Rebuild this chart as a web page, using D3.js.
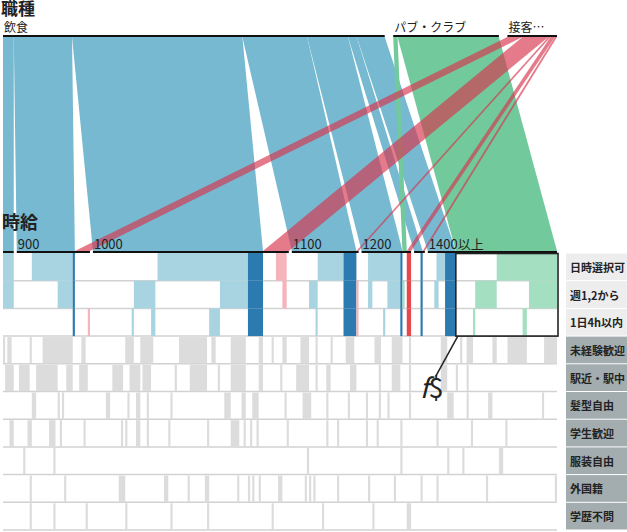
<!DOCTYPE html>
<html>
<head>
<meta charset="utf-8">
<script src="https://cdn.jsdelivr.net/npm/d3@7"></script>
<style>
  body { margin: 0; background: #fff; }
  text { font-family: "Noto Sans CJK JP", sans-serif; fill: #222; }
</style>
</head>
<body>
<div id="chart"></div>
<script>
// job category (top axis) and wage group (bottom axis)
const categories = ["飲食", "パブ・クラブ", "接客…"];
const wageGroups = ["850", "900", "1000", "1100", "1200", "1300", "1400以上"];

// number of listings per wage group, one array per category
const inshoku = [5, 27, 79, 30, 19, 4, 13];
const pubClub = [0, 0, 0, 0, 2, 0, 47];
const sekkyaku = [0, 7, 12, 1, 2, 1, 0];

const rowLabels = ["日時選択可", "週1,2から", "1日4h以内", "未経験歓迎", "駅近・駅中",
  "髪型自由", "学生歓迎", "服装自由", "外国籍", "学歴不問"];

// listings (in wage order, index 0..248) that have each feature, as [from, to) runs
const nichijiSentaku = [[0,5],[12,32],[69,118],[124,129],[142,160],[164,180],[182,184],[187,188],[193,202],[221,249]];
const shuIchiNi = [[0,5],[24,32],[58,68],[98,118],[127,129],[138,142],[154,161],[164,166],[173,181],[182,184],[187,188],[192,194],[197,202],[211,221],[236,249]];
const yojikanInai = [[31,32],[38,39],[57,58],[66,68],[93,98],[111,118],[141,142],[154,161],[171,172],[179,180],[182,184],[187,188],[197,202],[210,211],[233,235]];
const mikeiken = [[0,1],[2,4],[11,12],[17,31],[35,37],[54,58],[61,67],[79,92],[94,96],[103,110],[116,118],[122,123],[127,129],[134,138],[141,142],[148,149],[155,159],[167,170],[175,180],[183,184],[195,198],[204,205],[207,210],[219,221],[226,235],[243,249]];
const ekichika = [[1,5],[6,11],[14,24],[28,31],[34,38],[48,53],[56,61],[62,66],[77,78],[84,92],[97,98],[103,110],[116,118],[126,127],[132,138],[141,142],[146,148],[157,160],[169,170],[175,179],[183,184],[195,198],[202,203],[207,208]];
const kamigata = [[12,14],[24,25],[26,27],[45,47],[55,56],[59,61],[64,65],[75,76],[100,103],[108,110],[113,116],[128,129],[135,139],[146,147],[156,157],[163,164],[169,170],[173,174],[183,184],[198,201],[207,208],[217,219],[242,243]];
const gakusei = [[3,5],[10,12],[20,23],[25,26],[36,37],[52,53],[54,55],[59,61],[64,65],[74,75],[92,93],[103,107],[109,110],[112,113],[115,116],[129,130],[146,147],[151,152],[163,164],[168,169],[179,180],[193,194],[209,210],[225,226]];
const fukuso = [[8,9],[22,23],[137,138],[179,180],[198,199],[205,206],[222,224]];
const gaikokuseki = [[11,12],[27,28],[51,54],[72,74],[83,84],[91,93],[106,107],[111,112],[113,114],[116,117],[125,127],[136,137],[138,139],[140,141],[151,152],[164,165],[176,177],[187,188],[193,194],[216,217],[248,249]];
const gakureki = [[11,12],[22,23],[37,38],[54,55],[75,76],[92,93],[122,123],[144,145],[166,167],[182,184]];

const features = [nichijiSentaku, shuIchiNi, yojikanInai, mikeiken, ekichika,
  kamigata, gakusei, fukuso, gaikokuseki, gakureki];

const ribbonColor = ["#76b9d0", "#72ca9c", "rgb(215,50,75)"];
const lightColor = ["#a8d4e2", "#a5dfc2", "#f5b4bc"];
const darkColor = ["#2b7bb0", "#2e9a60", "#e8474d"];

const width = 627, height = 532;
const left = 3, right = 557;
const topY = 36, botY = 252;
const topGap = 8.5, botGap = 3;

const svg = d3.select("#chart").append("svg")
  .attr("width", width).attr("height", height);

const counts = [inshoku, pubClub, sekkyaku];
const total = d3.sum(counts.flat());

const xTop = d3.scaleLinear().domain([0, total])
  .range([left, right - topGap * (categories.length - 1)]);
const xBot = d3.scaleLinear().domain([0, total])
  .range([left, right - botGap * (wageGroups.length - 1)]);
const xb = (g, i) => xBot(i) + g * botGap;
const xt = (c, i) => xTop(i) + c * topGap;

// top order: category then wage
const flows = [];
const catRange = [];
let pos = 0;
counts.forEach((row, c) => {
  const s = pos;
  row.forEach((n, g) => {
    if (n > 0) flows.push({ c, g, n, t0: pos });
    pos += n;
  });
  catRange.push([s, pos]);
});

// bottom order: wage then category
const groupRange = [];
const unitCat = [];
pos = 0;
wageGroups.forEach((w, g) => {
  const s = pos;
  flows.filter(f => f.g === g).sort((a, b) => a.c - b.c).forEach(f => {
    f.b0 = pos;
    for (let k = 0; k < f.n; k++) unitCat.push(f.c);
    pos += f.n;
  });
  groupRange.push([s, pos]);
});

// ribbons
const ribbonG = svg.append("g");
const line = d3.line();
ribbonG.selectAll("path")
  .data(flows)
  .join("path")
  .attr("d", f => line([
    [xt(f.c, f.t0), topY + 1],
    [xt(f.c, f.t0 + f.n), topY + 1],
    [xb(f.g, f.b0 + f.n), botY - 1],
    [xb(f.g, f.b0), botY - 1]
  ]) + "Z")
  .attr("fill", f => ribbonColor[f.c])
  .attr("fill-opacity", f => (f.c === 2 ? 0.65 : 1));

// titles
svg.append("text").attr("x", 1).attr("y", 15)
  .attr("font-size", 17).attr("font-weight", 700).text("職種");
svg.append("text").attr("x", 2).attr("y", 229)
  .attr("font-size", 18).attr("font-weight", 700).text("時給");

// top axis
categories.forEach((name, c) => {
  const [s, e] = catRange[c];
  svg.append("line")
    .attr("x1", xt(c, s)).attr("x2", xt(c, e))
    .attr("y1", topY).attr("y2", topY)
    .attr("stroke", "#111").attr("stroke-width", 2);
  svg.append("text")
    .attr("x", xt(c, s) + 1).attr("y", 32)
    .attr("font-size", 12)
    .text(name);
});

// bottom axis
wageGroups.forEach((name, g) => {
  const [s, e] = groupRange[g];
  const x0 = xb(g, s), x1 = xb(g, e);
  svg.append("line")
    .attr("x1", x0).attr("x2", x1)
    .attr("y1", botY).attr("y2", botY)
    .attr("stroke", "#111").attr("stroke-width", 2);
  if (x1 - x0 > 30) {
    svg.append("text")
      .attr("x", x0 + 1).attr("y", 249)
      .attr("font-family", "Liberation Serif, serif")
      .attr("font-size", 13)
      .text(name);
  }
});

// feature matrix
const y = d3.scaleBand().domain(rowLabels).range([botY + 1, 530]);
const has = features.map(list => {
  const a = new Array(total).fill(false);
  list.forEach(([s, e]) => { for (let i = s; i < e; i++) a[i] = true; });
  return a;
});

const cellColor = (r, i) => {
  if (!has[r][i]) return null;
  if (r > 2) return "#dcdcdc";
  const all = has[0][i] && has[1][i] && has[2][i];
  return all ? darkColor[unitCat[i]] : lightColor[unitCat[i]];
};

// separators first
const sepG = svg.append("g");
rowLabels.forEach((r, k) => {
  if (k === 0) return;
  sepG.append("line")
    .attr("x1", left).attr("x2", right)
    .attr("y1", y(r)).attr("y2", y(r))
    .attr("stroke", "#d2d2d2").attr("stroke-width", 1.5);
});
sepG.append("line")
  .attr("x1", left).attr("x2", right)
  .attr("y1", 530).attr("y2", 530)
  .attr("stroke", "#d2d2d2").attr("stroke-width", 1.5);

const cellG = svg.append("g");
rowLabels.forEach((label, r) => {
  const cells = [];
  groupRange.forEach(([s, e], g) => {
    let i = s;
    while (i < e) {
      const col = cellColor(r, i);
      let j = i + 1;
      while (j < e && cellColor(r, j) === col) j++;
      if (col) cells.push({ g, s: i, e: j, col });
      i = j;
    }
  });
  cellG.selectAll(null)
    .data(cells)
    .join("rect")
    .attr("x", d => xb(d.g, d.s))
    .attr("width", d => xb(d.g, d.e) - xb(d.g, d.s))
    .attr("y", y(label) + (r > 2 ? 1 : 0))
    .attr("height", y.bandwidth() - (r > 2 ? 1.5 : 0))
    .attr("fill", d => d.col);
});

// row labels
const labelG = svg.append("g");
rowLabels.forEach((label, r) => {
  labelG.append("rect")
    .attr("x", 566).attr("width", width - 566)
    .attr("y", y(label) + 0.5).attr("height", y.bandwidth() - 1)
    .attr("fill", r < 3 ? "#ededed" : "#a3acae");
  labelG.append("text")
    .attr("x", 570).attr("y", y(label) + y.bandwidth() / 2)
    .attr("dominant-baseline", "central")
    .attr("font-size", 11).attr("font-weight", 700)
    .text(label);
});

// annotation around the club listings in the top wage group
const club = flows.find(f => f.c === 1 && f.g === wageGroups.length - 1);
const bx0 = xb(club.g, club.b0), bx1 = xb(club.g, club.b0 + club.n) + 1;
const by0 = y(rowLabels[0]) + 0.5, by1 = y(rowLabels[2]) + y.bandwidth();
svg.append("rect")
  .attr("x", bx0).attr("y", by0)
  .attr("width", bx1 - bx0).attr("height", by1 - by0)
  .attr("fill", "none").attr("stroke", "#222").attr("stroke-width", 1.6);
svg.append("line")
  .attr("x1", bx0 + 2).attr("y1", by1)
  .attr("x2", bx0 - 20).attr("y2", by1 + 40)
  .attr("stroke", "#222").attr("stroke-width", 1.5);
const note = svg.append("text")
  .attr("x", bx0 - 36).attr("y", by1 + 62)
  .attr("font-family", "Liberation Serif, serif")
  .attr("font-size", 27);
note.append("tspan").attr("font-style", "italic").text("f");
note.append("tspan").text("$");
</script>
</body>
</html>
